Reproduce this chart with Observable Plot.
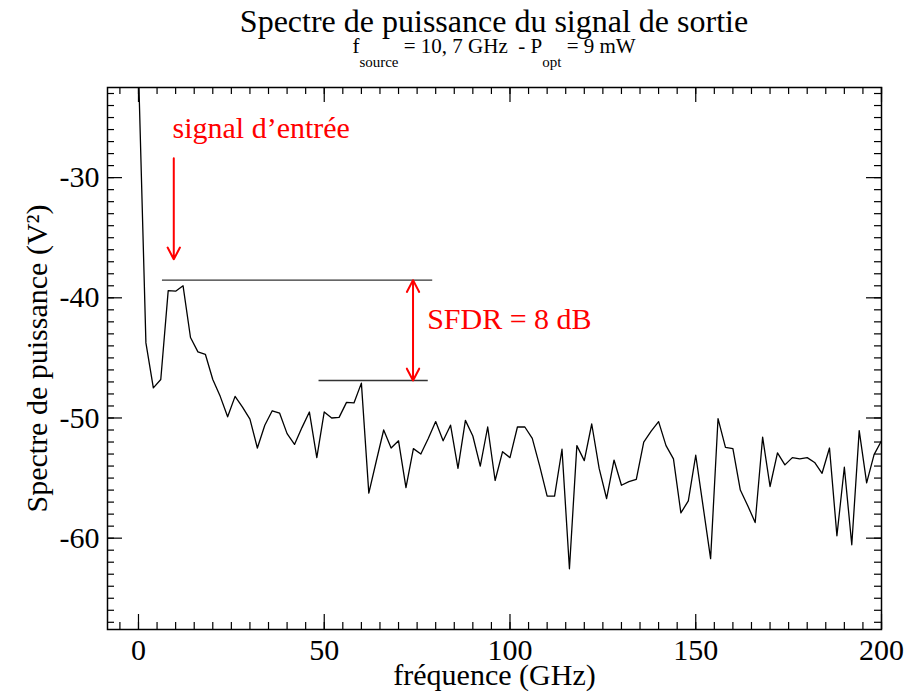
<!DOCTYPE html>
<html><head><meta charset="utf-8">
<script src="https://cdn.jsdelivr.net/npm/d3@7"></script>
<script src="https://cdn.jsdelivr.net/npm/@observablehq/plot@0.6"></script>
<style>
body{margin:0;background:#fff;}
#wrap{position:relative;width:907px;height:692px;font-family:"Liberation Serif","Times New Roman",serif;color:#000;background:#fff;}
#title{position:absolute;left:107px;width:774px;top:5px;text-align:center;font-size:32px;line-height:32px;white-space:nowrap;}
#subtitle{position:absolute;left:107px;width:774px;top:36px;text-align:center;font-size:21px;line-height:21px;white-space:pre;}
.sb{font-size:15px;position:relative;top:14px;}
#chart{position:absolute;left:0;top:70px;}
</style></head>
<body>
<div id="wrap">
<div id="title">Spectre de puissance du signal de sortie</div>
<div id="subtitle">f<span class="sb">source</span> = 10, 7 GHz  - P<span class="sb">opt</span> = 9 mW</div>
<div id="chart"></div>
</div>
<script>
// Frequencies (GHz)
const freq = [0,2,4,6,8,10,12,14,16,18,20,22,24,26,28,30,32,34,36,38,40,42,44,46,48,50,52,54,56,58,
  60,62,64,66,68,70,72,74,76,78,80,82,84,86,88,90,92,94,96,98,100,102,104,106,108,110,112,114,116,118,
  120,122,124,126,128,130,132,134,136,138,140,142,144,146,148,150,152,154,156,158,160,162,164,166,168,170,
  172,174,176,178,180,182,184,186,188,190,192,194,196,198,200];
// Power spectrum (dB, V^2)
const power = [-21,-43.75,-47.5,-46.8,-39.4,-39.45,-39.0,-43.3,-44.5,-44.7,-46.8,-48.2,-49.9,-48.2,-49.1,-50.1,-52.5,-50.6,-49.4,-49.6,
  -51.3,-52.2,-50.8,-49.5,-53.3,-49.5,-50.0,-49.95,-48.7,-48.75,-47.1,-56.25,-53.6,-51.0,-52.5,-51.9,-55.8,-52.55,-53.0,-51.7,
  -50.3,-51.9,-50.6,-54.2,-50.2,-51.5,-54.0,-50.75,-55.2,-52.8,-53.3,-50.75,-50.75,-51.7,-54.0,-56.5,-56.5,-52.6,-62.55,-52.3,
  -53.55,-50.5,-54.2,-56.7,-53.5,-55.6,-55.3,-55.1,-52.0,-51.1,-50.3,-52.3,-53.4,-57.9,-56.9,-53.1,-57.4,-61.7,-50.05,-52.45,
  -52.55,-56.0,-57.3,-58.7,-51.6,-55.7,-52.9,-53.9,-53.3,-53.4,-53.3,-53.7,-54.6,-52.5,-59.8,-54.1,-60.55,-51.05,-55.4,-53.05,-51.9];

// Axis setup
const xDomain = [-8.34, 200];
const yDomain = [-67.6, -22.5];
const xMajor = [0, 50, 100, 150, 200];
const xMinor = [-5,0,5,10,15,20,25,30,35,40,45,50,55,60,65,70,75,80,85,90,95,100,105,110,115,120,125,130,135,140,145,150,155,160,165,170,175,180,185,190,195,200];
const yMajor = [-60, -50, -40, -30];
const yMinor = [-67,-66,-65,-64,-63,-62,-61,-60,-59,-58,-57,-56,-55,-54,-53,-52,-51,-50,-49,-48,-47,-46,-45,-44,-43,-42,-41,-40,-39,-38,-37,-36,-35,-34,-33,-32,-31,-30,-29,-28,-27,-26,-25,-24,-23];
const xLabel = "fréquence (GHz)";
const yLabel = "Spectre de puissance (V²)";

// Annotations
const refLines = [
  {y: -38.53, x1: 6.45, x2: 79.2},
  {y: -46.88, x1: 48.6, x2: 78.0}
];
const inputArrow = {x: 9.5, yFrom: -28.38, yTo: -36.8};
const sfdrArrow = {x: 73.9, top: -38.53, bottom: -46.88};
const notes = [
  {text: "signal d’entrée", x: 9.15, y: -26.67},
  {text: "SFDR = 8 dB", x: 77.7, y: -42.63}
];

const data = freq.map((f, i) => ({f, p: power[i]}));
const sfdrMid = (sfdrArrow.top + sfdrArrow.bottom) / 2;
const arrows = [
  {x: inputArrow.x, y1: inputArrow.yFrom, y2: inputArrow.yTo},
  {x: sfdrArrow.x, y1: sfdrMid, y2: sfdrArrow.top},
  {x: sfdrArrow.x, y1: sfdrMid, y2: sfdrArrow.bottom}
];

const SERIF = "Liberation Serif";
const W = 907, H = 622, ML = 107, MR = 26, MT = 17, MB = 63;
const FW = W - ML - MR, FH = H - MT - MB;
const MAJ = 15, MIN = 7;

const chart = Plot.plot({
  width: W, height: H,
  marginLeft: ML, marginRight: MR, marginTop: MT, marginBottom: MB,
  style: {background: "white", color: "black", overflow: "visible"},
  x: {domain: xDomain},
  y: {domain: yDomain},
  marks: [
    Plot.line(data, {x: "f", y: "p", stroke: "black", strokeWidth: 1.3, clip: true}),
    Plot.ruleY(refLines, {y: "y", x1: "x1", x2: "x2", stroke: "#333", strokeWidth: 1.3}),
    Plot.arrow(arrows, {x1: "x", x2: "x", y1: "y1", y2: "y2", stroke: "#ff0000", strokeWidth: 2, headLength: 10, headAngle: 55}),
    Plot.text(notes, {x: "x", y: "y", text: "text", textAnchor: "start", lineAnchor: "bottom", fill: "#ff0000", fontSize: 30, fontFamily: SERIF}),
    // inward ticks, all four sides
    Plot.tickX(xMinor, {x: d => d, insetTop: FH - MIN, stroke: "black", strokeWidth: 1.2}),
    Plot.tickX(xMajor, {x: d => d, insetTop: FH - MAJ, stroke: "black", strokeWidth: 1.2}),
    Plot.tickX(xMinor, {x: d => d, insetBottom: FH - MIN, stroke: "black", strokeWidth: 1.2}),
    Plot.tickX(xMajor, {x: d => d, insetBottom: FH - MAJ, stroke: "black", strokeWidth: 1.2}),
    Plot.tickY(yMinor, {y: d => d, insetRight: FW - MIN, stroke: "black", strokeWidth: 1.2}),
    Plot.tickY(yMajor, {y: d => d, insetRight: FW - MAJ, stroke: "black", strokeWidth: 1.2}),
    Plot.tickY(yMinor, {y: d => d, insetLeft: FW - MIN, stroke: "black", strokeWidth: 1.2}),
    Plot.tickY(yMajor, {y: d => d, insetLeft: FW - MAJ, stroke: "black", strokeWidth: 1.2}),
    Plot.frame({stroke: "black", strokeWidth: 1.5}),
    Plot.axisX({ticks: xMajor, tickSize: 0, tickPadding: 9, tickFormat: d => String(d), label: null, fontSize: 30, fontFamily: SERIF}),
    Plot.axisY({ticks: yMajor, tickSize: 0, tickPadding: 8, tickFormat: d => String(d), label: null, fontSize: 30, fontFamily: SERIF}),
    Plot.text([xLabel], {text: d => d, frameAnchor: "bottom", dy: 55, lineAnchor: "bottom", textAnchor: "middle", fontSize: 30, fontFamily: SERIF}),
    Plot.text([yLabel], {text: d => d, frameAnchor: "left", dx: -70, rotate: -90, lineAnchor: "middle", textAnchor: "middle", fontSize: 30, fontFamily: SERIF})
  ]
});
// make sure every label uses the serif face
chart.setAttribute("font-family", SERIF);
chart.querySelectorAll("text, g").forEach(el => {
  if (el.hasAttribute("font-family")) el.setAttribute("font-family", SERIF);
});
chart.querySelectorAll("text").forEach(t => t.style.setProperty("font-family", "'Liberation Serif', 'Times New Roman', serif", "important"));
document.getElementById("chart").appendChild(chart);
</script>
</body></html>
